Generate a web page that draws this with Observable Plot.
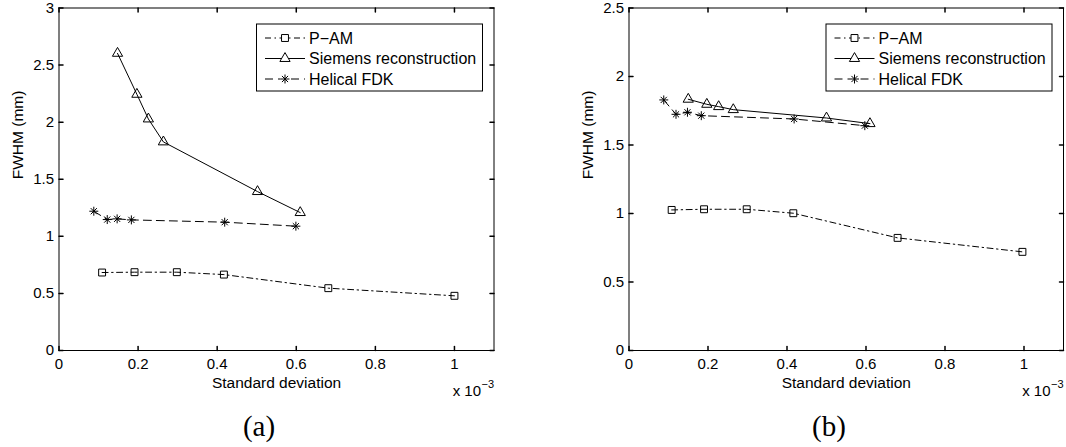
<!DOCTYPE html>
<html><head><meta charset="utf-8">
<script src="https://cdn.jsdelivr.net/npm/d3@7"></script>
<script src="https://cdn.jsdelivr.net/npm/@observablehq/plot@0.6"></script>
<style>
body{margin:0;background:#fff;}
#wrap{position:relative;width:1066px;height:447px;overflow:hidden;background:#fff;}
.panel{position:absolute;top:0;}
.panel svg{overflow:visible;}
.cap{position:absolute;font-family:"Liberation Serif","Times New Roman",serif;font-size:29px;line-height:29px;transform:translateX(-50%);color:#000;}
</style></head><body>
<div id="wrap">
  <div id="pa" class="panel" style="left:0"></div>
  <div id="pb" class="panel" style="left:533px"></div>
  <div class="cap" style="left:259px;top:412px">(a)</div>
  <div class="cap" style="left:829px;top:412px">(b)</div>
</div>
<script>
// ---- data (x in units of 1e-3) ----
const seriesNames = ["P\u2212AM", "Siemens reconstruction", "Helical FDK"];
const xTicks = [0, 0.2, 0.4, 0.6, 0.8, 1];
const yTicksA = [0, 0.5, 1, 1.5, 2, 2.5, 3];
const yTicksB = [0, 0.5, 1, 1.5, 2, 2.5];

// panel (a)
const aPamX = [0.109, 0.191, 0.298, 0.417, 0.681, 1.0];
const aPamY = [0.683, 0.686, 0.686, 0.665, 0.546, 0.479];
const aSieX = [0.148, 0.197, 0.226, 0.264, 0.502, 0.610];
const aSieY = [2.603, 2.244, 2.028, 1.827, 1.392, 1.208];
const aFdkX = [0.088, 0.122, 0.147, 0.183, 0.419, 0.599];
const aFdkY = [1.220, 1.147, 1.153, 1.144, 1.124, 1.089];

// panel (b)
const bPamX = [0.108, 0.190, 0.298, 0.416, 0.680, 0.996];
const bPamY = [1.026, 1.031, 1.031, 1.002, 0.822, 0.720];
const bSieX = [0.150, 0.197, 0.227, 0.264, 0.500, 0.610];
const bSieY = [1.834, 1.797, 1.780, 1.758, 1.697, 1.656];
const bFdkX = [0.088, 0.119, 0.148, 0.183, 0.418, 0.597];
const bFdkY = [1.829, 1.724, 1.739, 1.714, 1.690, 1.641];

// ---- styling ----
const FONT = "'Liberation Sans', Arial, Helvetica, sans-serif";
const DASHDOT = "6,3.5,1.5,3.5";
const DASHED = "8,5";
const TL = 4;
const RSTAR_P = 3.0, RSTAR_T = 2.9;
const shUp = {draw(c, l) { c.moveTo(0, 0); c.lineTo(0, -l); }};
const shDown = {draw(c, l) { c.moveTo(0, 0); c.lineTo(0, l); }};
const shRight = {draw(c, l) { c.moveTo(0, 0); c.lineTo(l, 0); }};
const shLeft = {draw(c, l) { c.moveTo(0, 0); c.lineTo(-l, 0); }};
const fmt = d => String(d);
const rows = (xs, ys) => xs.map((x, i) => ({x, y: ys[i]}));

function panel({pam, sie, fdk, yMax, yTicks, marginLeft, marginRight}) {
  const P = rows(...pam), S = rows(...sie), F = rows(...fdk);
  const svg = Plot.plot({
    width: 533, height: 405,
    marginTop: 7.5, marginBottom: 55, marginLeft, marginRight,
    style: {fontFamily: FONT, fontSize: "15px", color: "black", background: "white", overflow: "visible"},
    x: {domain: [0, 1.1]},
    y: {domain: [0, yMax]},
    marks: [
      Plot.axisX(xTicks, {anchor: "bottom", tickSize: 0, tickPadding: 8, tickFormat: fmt, label: null}),
      Plot.axisY(yTicks, {anchor: "left", tickSize: 0, tickPadding: 5, tickFormat: fmt, label: null}),
      Plot.vector(xTicks, {x: d => d, frameAnchor: "bottom", length: TL, anchor: "start", shape: shUp, stroke: "black"}),
      Plot.vector(xTicks, {x: d => d, frameAnchor: "top", length: TL, anchor: "start", shape: shDown, stroke: "black"}),
      Plot.vector(yTicks, {y: d => d, frameAnchor: "left", length: TL, anchor: "start", shape: shRight, stroke: "black"}),
      Plot.vector(yTicks, {y: d => d, frameAnchor: "right", length: TL, anchor: "start", shape: shLeft, stroke: "black"}),
      Plot.frame({stroke: "black", strokeWidth: 1}),
      Plot.line(P, {x: "x", y: "y", stroke: "black", strokeWidth: 1, strokeDasharray: DASHDOT}),
      Plot.line(S, {x: "x", y: "y", stroke: "black", strokeWidth: 1}),
      Plot.line(F, {x: "x", y: "y", stroke: "black", strokeWidth: 1, strokeDasharray: DASHED}),
      Plot.dot(P, {x: "x", y: "y", symbol: "square", r: 3.9, stroke: "black", fill: "none", strokeWidth: 1}),
      Plot.dot(S, {x: "x", y: "y", symbol: "triangle", r: 3.8, stroke: "black", fill: "none", strokeWidth: 1}),
      Plot.dot(F, {x: "x", y: "y", symbol: "plus", r: RSTAR_P, stroke: "black", strokeWidth: 1}),
      Plot.dot(F, {x: "x", y: "y", symbol: "times", r: RSTAR_T, stroke: "black", strokeWidth: 1}),
      Plot.text(["Standard deviation"], {text: d => d, frameAnchor: "bottom", dy: 37, lineAnchor: "bottom", fontSize: 15.5, fill: "black"}),
      Plot.text(["FWHM (mm)"], {text: d => d, frameAnchor: "left", rotate: -90, dx: -36.5, lineAnchor: "bottom", fontSize: 15.5, fill: "black"}),
      Plot.text(["x 10"], {text: d => d, frameAnchor: "bottom-right", textAnchor: "end", dx: -13, dy: 45, lineAnchor: "bottom", fontSize: 15, fill: "black"}),
      Plot.text(["\u22123"], {text: d => d, frameAnchor: "bottom-right", textAnchor: "end", dx: 0, dy: 37, lineAnchor: "bottom", fontSize: 11, fill: "black"})
    ]
  });
  // legend (MATLAB-style box, top-right inside axes)
  const W = 226, H = 67;
  const frameRight = 533 - marginRight;
  const lx = frameRight - 11.5 - W, ly = 7.5 + 16;
  const g = d3.select(svg).append("g").attr("transform", `translate(${lx},${ly})`)
    .attr("text-anchor", "start");
  g.append("rect").attr("x", 0.5).attr("y", 0.5).attr("width", W).attr("height", H)
    .attr("fill", "white").attr("stroke", "black").attr("stroke-width", 1);
  const rowY = [14.5, 35, 55.5];
  const dashes = [DASHDOT, null, DASHED];
  const cx = 29;
  rowY.forEach((y, i) => {
    const ln = g.append("line").attr("x1", 9).attr("x2", 49).attr("y1", y).attr("y2", y)
      .attr("stroke", "black").attr("stroke-width", 1);
    if (dashes[i]) ln.attr("stroke-dasharray", dashes[i]);
    const sym = d3.symbol();
    if (i === 0) {
      g.append("path").attr("transform", `translate(${cx},${y})`)
        .attr("d", sym.type(d3.symbolSquare).size(Math.PI * 3.9 * 3.9)()).attr("fill", "white").attr("stroke", "black");
    } else if (i === 1) {
      g.append("path").attr("transform", `translate(${cx},${y})`)
        .attr("d", sym.type(d3.symbolTriangle).size(Math.PI * 3.8 * 3.8)()).attr("fill", "white").attr("stroke", "black");
    } else {
      g.append("rect").attr("x", cx - 4.5).attr("y", y - 4.5).attr("width", 9).attr("height", 9).attr("fill", "white");
      g.append("path").attr("transform", `translate(${cx},${y})`)
        .attr("d", sym.type(d3.symbolPlus).size(Math.PI * RSTAR_P * RSTAR_P)()).attr("fill", "none").attr("stroke", "black");
      g.append("path").attr("transform", `translate(${cx},${y})`)
        .attr("d", sym.type(d3.symbolTimes).size(Math.PI * RSTAR_T * RSTAR_T)()).attr("fill", "none").attr("stroke", "black");
    }
    g.append("text").attr("x", 53).attr("y", y).attr("dy", "0.35em").attr("text-anchor", "start")
      .attr("font-family", FONT).attr("font-size", 16).attr("fill", "black").text(seriesNames[i]);
  });
  return svg;
}

document.getElementById("pa").appendChild(panel({
  pam: [aPamX, aPamY], sie: [aSieX, aSieY], fdk: [aFdkX, aFdkY],
  yMax: 3, yTicks: yTicksA, marginLeft: 58.5, marginRight: 39.5
}));
document.getElementById("pb").appendChild(panel({
  pam: [bPamX, bPamY], sie: [bSieX, bSieY], fdk: [bFdkX, bFdkY],
  yMax: 2.5, yTicks: yTicksB, marginLeft: 95.5, marginRight: 3
}));
</script>
</body></html>
